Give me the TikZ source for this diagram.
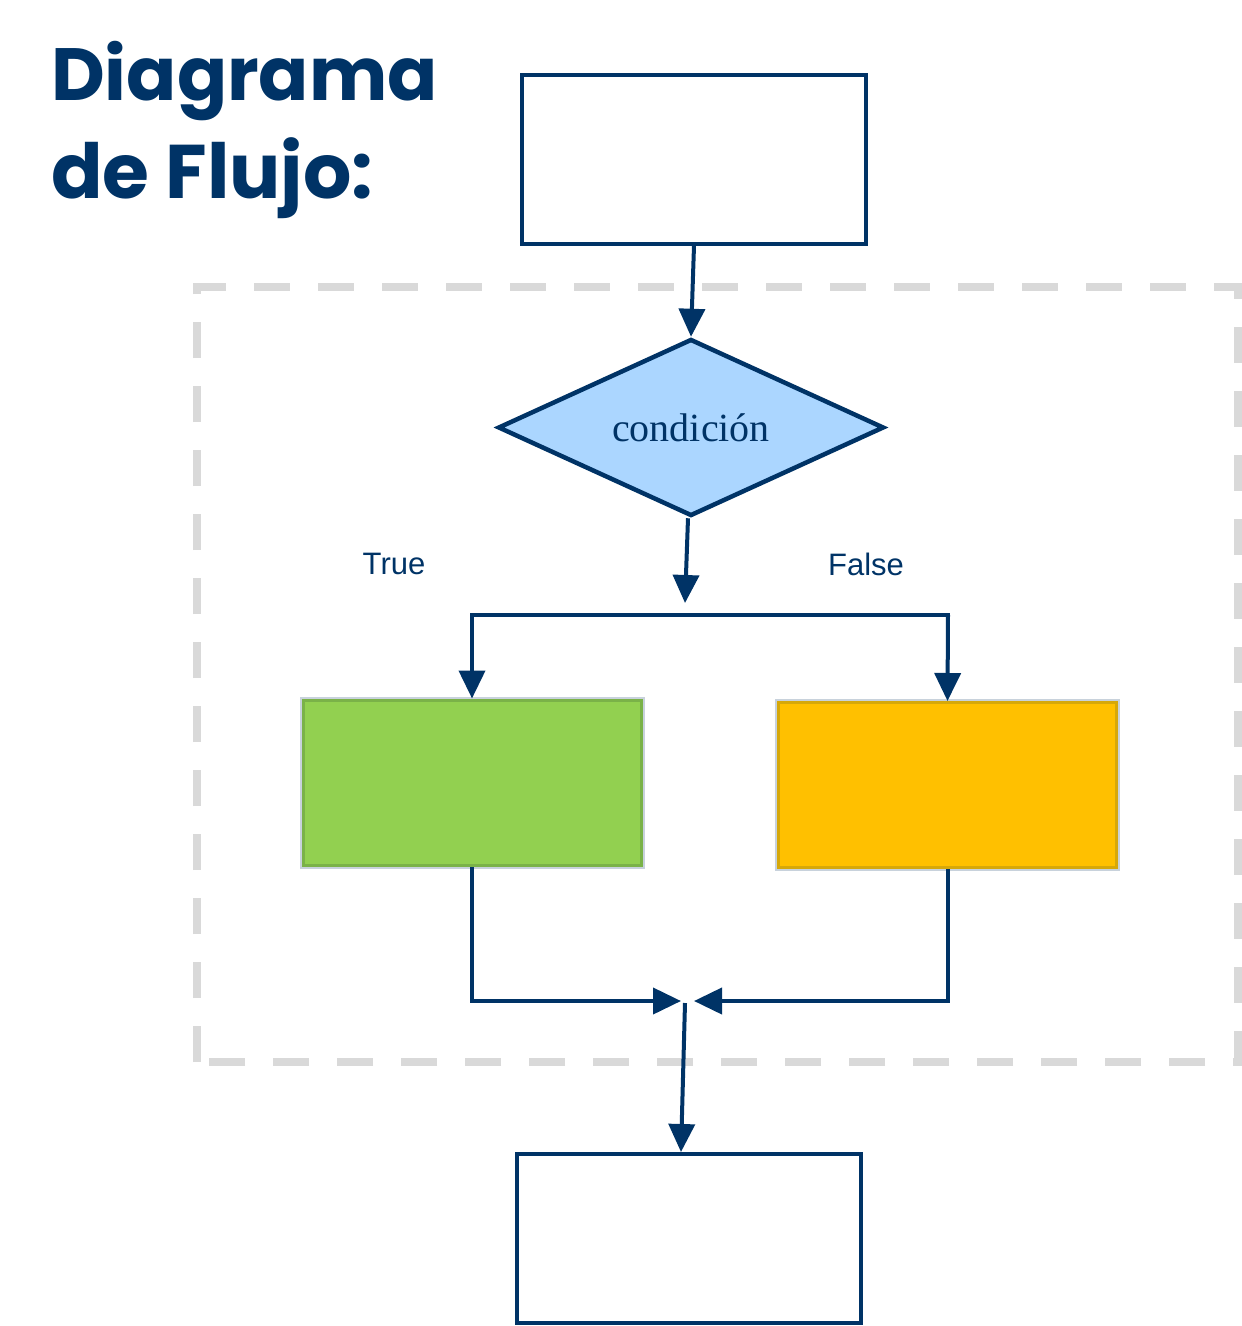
\documentclass[tikz,border=0pt]{standalone}
\usepackage{fontspec}
\setmainfont{Liberation Serif}
\setsansfont{Liberation Sans}
\newfontfamily\titlefont{Poppins}[UprightFont=* Bold]
\usetikzlibrary{arrows.meta,shapes.geometric}
\definecolor{navy}{RGB}{0,51,102}
\definecolor{diafill}{RGB}{171,214,255}
\definecolor{grnfill}{RGB}{146,208,80}
\definecolor{grnline}{RGB}{122,178,72}
\definecolor{orgfill}{RGB}{255,192,0}
\definecolor{orgline}{RGB}{214,168,10}
\definecolor{halo}{RGB}{200,210,220}
\definecolor{dashgray}{RGB}{217,217,217}
\tikzset{
  blankbox/.style={draw=navy, line width=3.5pt, fill=white, minimum width=344pt, minimum height=169pt, inner sep=0pt},
  colbox/.style={line width=3pt, minimum width=342pt, minimum height=169pt, inner sep=0pt},
  conn/.style={draw=navy, line width=4pt},
  arr/.style={conn, -{Triangle[width=26pt,length=28pt]}},
  lbl/.style={text=navy, font=\sffamily\fontsize{31}{36}\selectfont},
}
\begin{document}
\begin{tikzpicture}[x=1pt,y=-1pt]
\useasboundingbox (0,0) rectangle (1242,1326);
% title
\node[anchor=base west, text=navy, inner sep=0pt, font=\titlefont\fontsize{74}{80}\selectfont] (t1) at (51,100) {Diagrama};
\node[anchor=base west, text=navy, inner sep=0pt, font=\titlefont\fontsize{76}{80}\selectfont] (t2) at (51,198) {de Flujo:};
% dashed frame
\draw[dashgray, line width=8pt, dash pattern=on 36pt off 28pt] (197,1062) -- (197,287) -- (1238,287) -- (1238,1062) -- cycle;
% nodes
\node[blankbox] (top) at (694,159.5) {};
\node[diamond, draw=navy, fill=diafill, line width=4.5pt, minimum width=386pt, minimum height=177pt, shape aspect=2.2, inner sep=0pt, text=navy, font=\fontsize{40}{44}\selectfont] (dia) at (691,427.5) {condición};
\node[colbox, draw=halo, fill=halo] (gh) at (472,782.5) {};
\node[colbox, draw=grnline, fill=grnfill, minimum width=338pt, minimum height=165pt] (grn) at (472,782.5) {};
\node[colbox, draw=halo, fill=halo] (oh) at (947.5,785) {};
\node[colbox, draw=orgline, fill=orgfill, minimum width=338pt, minimum height=165pt] (org) at (947.5,785) {};
\node[blankbox] (bot) at (689,1238.5) {};
% labels
\node[lbl] (ltrue) at (394,564) {True};
\node[lbl] (lfalse) at (866,564) {False};
% coordinates
\coordinate (split) at (685,603);
\coordinate (hl) at (472,615);
\coordinate (hr) at (948,615);
\coordinate (gb) at (472,867);
\coordinate (ob) at (948,869);
\coordinate (ml) at (681,1001);
\coordinate (mr) at (694,1001);
\coordinate (mb) at (685,1003);
\coordinate (bt) at (681,1152);
% connectors
\draw[arr] (top.south) -- (dia.north);
\draw[arr] ([xshift=-3pt]dia.south) -- (split);
\draw[conn, line cap=rect] (hl) -- (hr);
\draw[arr] (hl) -- (grn.north);
\draw[arr] (hr) -- (org.north);
\draw[arr] (gb) |- (ml);
\draw[arr] (ob) |- (mr);
\draw[arr] (mb) -- (bt);
\end{tikzpicture}
\end{document}
